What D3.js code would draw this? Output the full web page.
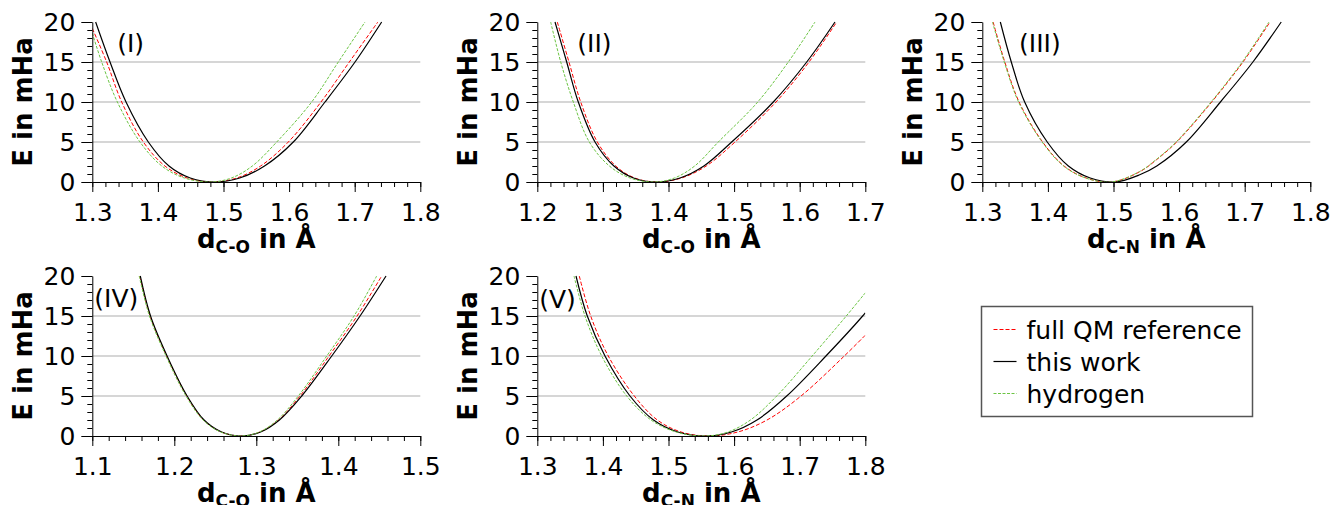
<!DOCTYPE html>
<html>
<head>
<meta charset="utf-8">
<script src="https://cdn.jsdelivr.net/npm/d3@7"></script>
<style>
  body { margin: 0; background: #fff; }
  svg text { font-family: "DejaVu Sans", sans-serif; }
</style>
</head>
<body>
<svg id="chart" width="1333" height="505"></svg>
<script>
// panel names and axis ranges
var panelNames = ["(I)", "(II)", "(III)", "(IV)", "(V)"];
var xDomains = [[1.3, 1.8], [1.2, 1.7], [1.3, 1.8], [1.1, 1.5], [1.3, 1.8]];
var bondNames = ["C-O", "C-O", "C-N", "C-O", "C-N"];
var yTickValues = [0, 5, 10, 15, 20];
var gridValues = [5, 10, 15];
var seriesNames = ["full QM reference", "this work", "hydrogen"];

// curves: [d in Å, E in mHa]
var ref1 = [[1.3,19.2],[1.3219,15],[1.3448,10],[1.3778,5],[1.4107,2],[1.4447,0.5],[1.484,0],[1.5203,0.5],[1.5566,2],[1.5988,5],[1.6486,10],[1.6918,15],[1.7353,20]];
var work1 = [[1.3051,20],[1.327,15],[1.3514,10],[1.3854,5],[1.4169,2],[1.4494,0.5],[1.487,0],[1.5247,0.5],[1.5625,2],[1.6064,5],[1.6547,10],[1.7005,15],[1.7411,20]];
var hyd1 = [[1.3,18.6],[1.3143,15],[1.3382,10],[1.3727,5],[1.406,2],[1.4403,0.5],[1.48,0],[1.512,0.5],[1.5439,2],[1.5811,5],[1.6344,10],[1.675,15],[1.7157,20]];

var ref2 = [[1.2305,20],[1.2483,15],[1.2662,10],[1.2915,5],[1.3196,2],[1.3485,0.5],[1.382,0],[1.4198,0.5],[1.4575,2],[1.5014,5],[1.5639,10],[1.6142,15],[1.6564,20]];
var work2 = [[1.227,20],[1.2448,15],[1.2625,10],[1.288,5],[1.3168,2],[1.3466,0.5],[1.381,0],[1.4175,0.5],[1.4539,2],[1.4963,5],[1.5598,10],[1.6107,15],[1.6538,20]];
var hyd2 = [[1.2204,20],[1.2357,15],[1.2549,10],[1.2793,5],[1.3099,2],[1.3415,0.5],[1.378,0],[1.409,0.5],[1.4399,2],[1.4759,5],[1.536,10],[1.5826,15],[1.6233,20]];

var ref3 = [[1.3165,20],[1.3343,15],[1.3561,10],[1.392,5],[1.4246,2],[1.4583,0.5],[1.4973,0],[1.5404,1.3],[1.5658,2.8],[1.5963,5],[1.6497,10],[1.6974,15],[1.7385,20]];
var work3 = [[1.3275,20],[1.3442,15],[1.3646,10],[1.399,5],[1.4312,2],[1.4645,0.5],[1.503,0],[1.54,0.9],[1.566,2],[1.611,5],[1.663,10],[1.7125,15],[1.7557,20]];
var hyd3 = [[1.3155,20],[1.3335,15],[1.3553,10],[1.3912,5],[1.4238,2],[1.4575,0.5],[1.4965,0],[1.5396,1.3],[1.565,2.8],[1.5953,5],[1.6487,10],[1.6962,15],[1.737,20]];

var ref4 = [[1.158,20],[1.1705,15],[1.1907,10],[1.2151,5],[1.2358,2],[1.2572,0.5],[1.282,0],[1.3045,0.5],[1.3271,2],[1.3533,5],[1.3887,10],[1.4229,15],[1.4529,20]];
var work4 = [[1.1585,20],[1.171,15],[1.1912,10],[1.2156,5],[1.2363,2],[1.2577,0.5],[1.2825,0],[1.3053,0.5],[1.3282,2],[1.3554,5],[1.392,10],[1.4265,15],[1.4582,20]];
var hyd4 = [[1.1572,20],[1.1697,15],[1.1899,10],[1.2143,5],[1.2351,2],[1.2566,0.5],[1.2815,0],[1.3036,0.5],[1.3257,2],[1.3512,5],[1.3859,10],[1.4192,15],[1.4468,20]];

var ref5 = [[1.364,20],[1.3814,15],[1.4082,10],[1.4479,5],[1.483,2],[1.5192,0.5],[1.561,0],[1.6056,0.5],[1.6502,2],[1.702,5],[1.768,10],[1.8,12.6]];
var work5 = [[1.359,20],[1.3762,15],[1.4032,10],[1.4413,5],[1.4772,2],[1.5142,0.5],[1.557,0],[1.596,0.5],[1.6349,2],[1.6802,5],[1.74,10],[1.796,15],[1.8,15.4]];
var hyd5 = [[1.356,20],[1.3727,15],[1.3982,10],[1.4363,5],[1.4734,2],[1.5117,0.5],[1.556,0],[1.5905,0.5],[1.6249,2],[1.665,5],[1.719,10],[1.771,15],[1.8,17.9]];

var panelSeries = [[ref1, work1, hyd1], [ref2, work2, hyd2], [ref3, work3, hyd3], [ref4, work4, hyd4], [ref5, work5, hyd5]];

// where the (I)...(V) labels sit, in data units
var tagPos = [[1.338, 16.3], [1.261, 16.3], [1.356, 16.3], [1.1025, 16.1], [1.303, 16.0]];

//layout
var svg = d3.select("#chart");
var plotW = 328, plotH = 160;
var lefts = [92.3, 537.3, 982.3, 92.3, 537.3];
var tops = [22, 22, 22, 276, 276];

var styles = [
  { color: "#ff0000", width: 1, dash: "4,2" },
  { color: "#000000", width: 1.2, dash: null },
  { color: "#6cc444", width: 1, dash: "3,1.5" }
];

svg.append("rect").attr("width", 1333).attr("height", 505).attr("fill", "#fff");

panelNames.forEach(function (name, i) {
  var g = svg.append("g").attr("transform", "translate(" + lefts[i] + "," + tops[i] + ")");

  var x = d3.scaleLinear().domain(xDomains[i]).range([0, plotW]);
  var y = d3.scaleLinear().domain([0, 20]).range([plotH, 0]);

  // grid
  g.append("g").selectAll("line")
    .data(gridValues)
    .enter().append("line")
    .attr("x1", 0).attr("x2", plotW)
    .attr("y1", function (d) { return y(d); })
    .attr("y2", function (d) { return y(d); })
    .attr("stroke", "#c8c8c8")
    .attr("stroke-width", 1.5);

  // curves, clipped to the plot box
  var clipId = "clip" + i;
  g.append("clipPath").attr("id", clipId)
    .append("rect").attr("x", 0).attr("y", -1).attr("width", plotW).attr("height", plotH + 1.5);

  var line = d3.line()
    .x(function (d) { return x(d[0]); })
    .y(function (d) { return y(d[1]); })
    .curve(d3.curveCatmullRom.alpha(0.5));

  g.append("g").attr("clip-path", "url(#" + clipId + ")")
    .selectAll("path")
    .data(panelSeries[i])
    .enter().append("path")
    .attr("d", line)
    .attr("fill", "none")
    .attr("stroke", function (d, k) { return styles[k].color; })
    .attr("stroke-width", function (d, k) { return styles[k].width; })
    .attr("stroke-dasharray", function (d, k) { return styles[k].dash; });

  // minor ticks first, then the labelled axes
  var xd = xDomains[i];
  var xMinor = d3.range(Math.round(xd[0] * 50), Math.round(xd[1] * 50) + 1).map(function (v) { return v / 50; });
  var xMajor = d3.range(Math.round(xd[0] * 10), Math.round(xd[1] * 10) + 1).map(function (v) { return v / 10; });

  g.append("g").attr("transform", "translate(0," + plotH + ")")
    .call(d3.axisBottom(x).tickValues(xMinor).tickSize(5).tickFormat(""))
    .call(function (a) { a.select(".domain").remove(); });
  g.append("g").attr("transform", "translate(0," + plotH + ")")
    .call(d3.axisBottom(x).tickValues(xMajor).tickSize(10).tickSizeOuter(0).tickPadding(11).tickFormat(d3.format(".1f")))
    .attr("font-size", 25).attr("font-family", null);

  g.append("g")
    .call(d3.axisLeft(y).tickValues(d3.range(0, 21)).tickSize(5).tickFormat(""))
    .call(function (a) { a.select(".domain").remove(); });
  g.append("g")
    .call(d3.axisLeft(y).tickValues(yTickValues).tickSize(11).tickSizeOuter(0).tickPadding(6))
    .attr("font-size", 25).attr("font-family", null);

  g.selectAll(".tick line, .domain").attr("stroke", "#000");

  // axis titles
  var xt = g.append("text")
    .attr("x", plotW / 2).attr("y", plotH + 66)
    .attr("text-anchor", "middle")
    .attr("font-weight", "bold").attr("font-size", 26);
  xt.append("tspan").text("d");
  xt.append("tspan").attr("font-size", 17).attr("dy", 5).text(bondNames[i]);
  xt.append("tspan").attr("dy", -5).text(" in Å");

  g.append("text")
    .attr("transform", "translate(-60," + (plotH / 2) + ") rotate(-90)")
    .attr("text-anchor", "middle")
    .attr("font-weight", "bold").attr("font-size", 26)
    .text("E in mHa");

  g.append("text")
    .attr("x", x(tagPos[i][0])).attr("y", y(tagPos[i][1]))
    .attr("font-size", 25)
    .text(name);
});

// legend
var legend = svg.append("g").attr("transform", "translate(981.5,306.5)");
legend.append("rect")
  .attr("width", 271).attr("height", 110)
  .attr("fill", "#fff").attr("stroke", "#555").attr("stroke-width", 1.5);

var rows = legend.selectAll(".row")
  .data(seriesNames)
  .enter().append("g")
  .attr("class", "row")
  .attr("transform", function (d, k) { return "translate(0," + (23 + k * 32) + ")"; });

rows.append("line")
  .attr("x1", 12).attr("x2", 35)
  .attr("stroke", function (d, k) { return styles[k].color; })
  .attr("stroke-width", function (d, k) { return styles[k].width; })
  .attr("stroke-dasharray", function (d, k) { return styles[k].dash; });

rows.append("text")
  .attr("x", 45).attr("y", 9)
  .attr("font-size", 25)
  .text(function (d) { return d; });
</script>
</body>
</html>
